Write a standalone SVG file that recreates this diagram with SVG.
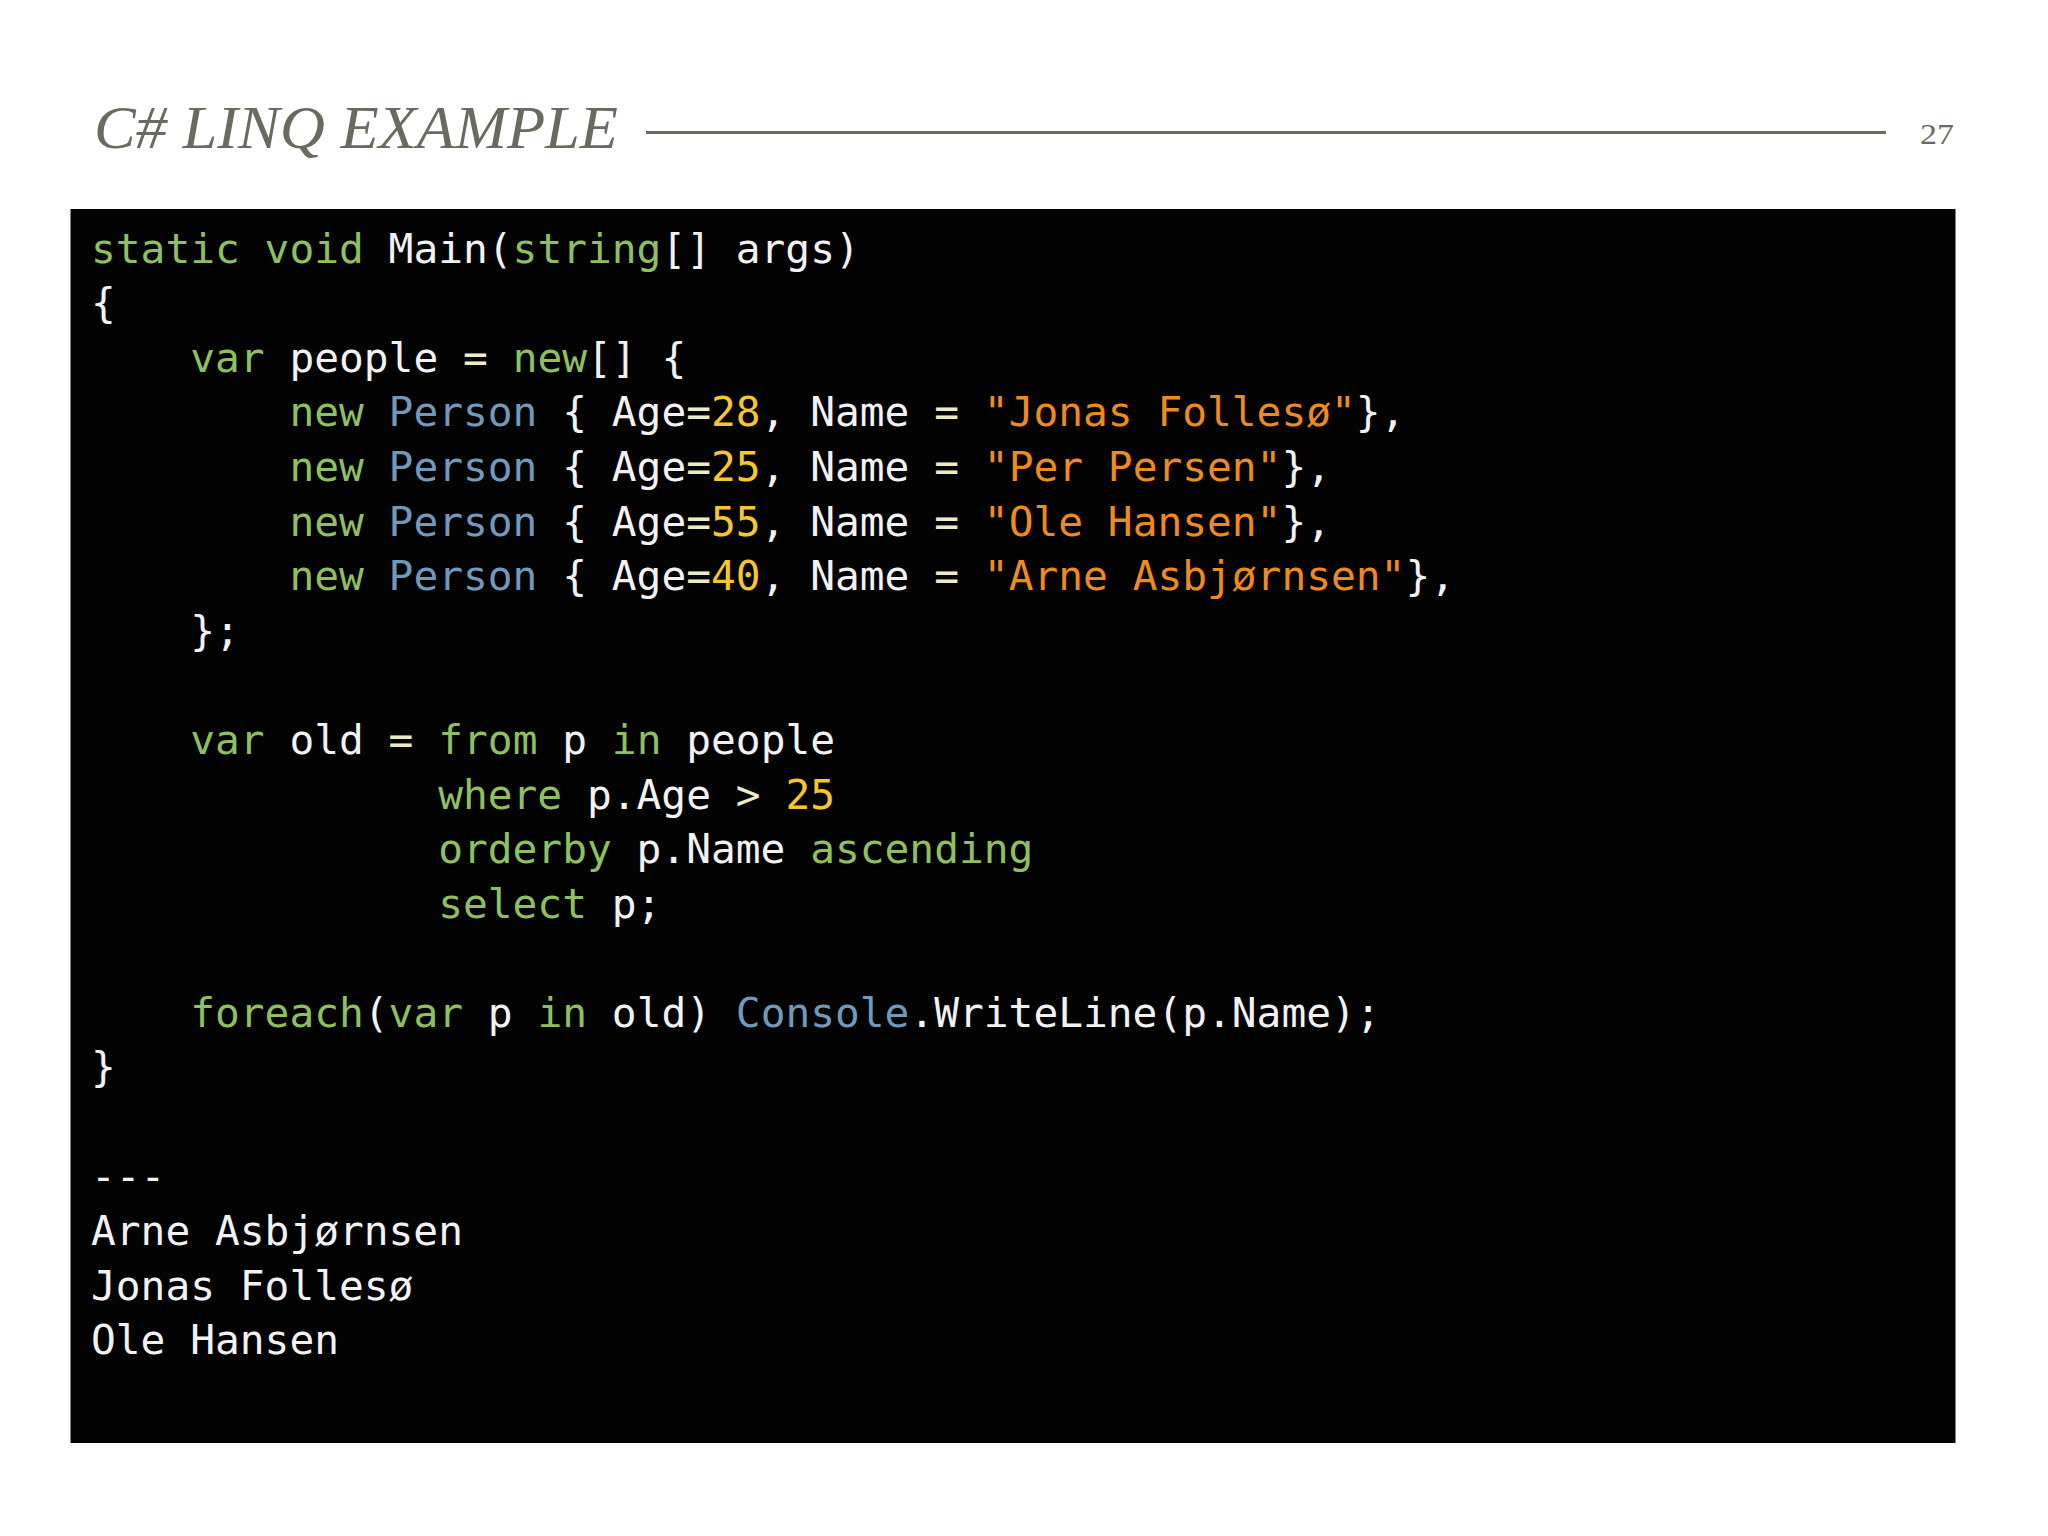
<svg xmlns="http://www.w3.org/2000/svg" width="2048" height="1536" viewBox="0 0 2048 1536">
<style>
.title{font-family:"Liberation Serif","DejaVu Serif",serif;font-style:italic;fill:#6b6a5e}
.num{font-family:"Liberation Serif","DejaVu Serif",serif;fill:#6b6a5e}
.code{font-family:"DejaVu Sans Mono","Liberation Mono",monospace;font-size:41.2px;fill:#f2f2f2}
.k{fill:#8fc060}
.t{fill:#7199bd}
.n{fill:#f7c62a}
.s{fill:#ef8a1c}
.o{fill:#ecebc8}
</style>
<rect width="2048" height="1536" fill="#ffffff"/>
<g id="header">
<text class="title" x="94" y="148" font-size="61" textLength="524" lengthAdjust="spacingAndGlyphs">C# LINQ EXAMPLE</text>
<line x1="646" y1="132.5" x2="1886" y2="132.5" stroke="#6b6a5e" stroke-width="3"/>
<text class="num" x="1920" y="144" font-size="30" textLength="34" lengthAdjust="spacingAndGlyphs">27</text>
</g>
<g id="code-panel">
<rect x="70.5" y="209" width="1885" height="1234" fill="#030303"/>
<text class="code" xml:space="preserve">
<tspan x="91" y="262.7"><tspan class="k">static void</tspan> Main(<tspan class="k">string</tspan>[] args)</tspan>
<tspan x="91" y="317.3">{</tspan>
<tspan x="91" y="371.9">    <tspan class="k">var</tspan> people <tspan class="o">=</tspan> <tspan class="k">new</tspan>[] {</tspan>
<tspan x="91" y="426.4">        <tspan class="k">new</tspan> <tspan class="t">Person</tspan> { Age<tspan class="o">=</tspan><tspan class="n">28</tspan>, Name <tspan class="o">=</tspan> <tspan class="s">"Jonas Follesø"</tspan>},</tspan>
<tspan x="91" y="481.0">        <tspan class="k">new</tspan> <tspan class="t">Person</tspan> { Age<tspan class="o">=</tspan><tspan class="n">25</tspan>, Name <tspan class="o">=</tspan> <tspan class="s">"Per Persen"</tspan>},</tspan>
<tspan x="91" y="535.6">        <tspan class="k">new</tspan> <tspan class="t">Person</tspan> { Age<tspan class="o">=</tspan><tspan class="n">55</tspan>, Name <tspan class="o">=</tspan> <tspan class="s">"Ole Hansen"</tspan>},</tspan>
<tspan x="91" y="590.2">        <tspan class="k">new</tspan> <tspan class="t">Person</tspan> { Age<tspan class="o">=</tspan><tspan class="n">40</tspan>, Name <tspan class="o">=</tspan> <tspan class="s">"Arne Asbjørnsen"</tspan>},</tspan>
<tspan x="91" y="644.8">    };</tspan>
<tspan x="91" y="754.0">    <tspan class="k">var</tspan> old <tspan class="o">=</tspan> <tspan class="k">from</tspan> p <tspan class="k">in</tspan> people</tspan>
<tspan x="91" y="808.5">              <tspan class="k">where</tspan> p.Age <tspan class="o">&gt;</tspan> <tspan class="n">25</tspan></tspan>
<tspan x="91" y="863.1">              <tspan class="k">orderby</tspan> p.Name <tspan class="k">ascending</tspan></tspan>
<tspan x="91" y="917.7">              <tspan class="k">select</tspan> p;</tspan>
<tspan x="91" y="1026.8">    <tspan class="k">foreach</tspan>(<tspan class="k">var</tspan> p <tspan class="k">in</tspan> old) <tspan class="t">Console</tspan>.WriteLine(p.Name);</tspan>
<tspan x="91" y="1081.4">}</tspan>
<tspan x="91" y="1190.6">---</tspan>
<tspan x="91" y="1245.2">Arne Asbjørnsen</tspan>
<tspan x="91" y="1299.8">Jonas Follesø</tspan>
<tspan x="91" y="1354.3">Ole Hansen</tspan>
</text>
</g>
</svg>
